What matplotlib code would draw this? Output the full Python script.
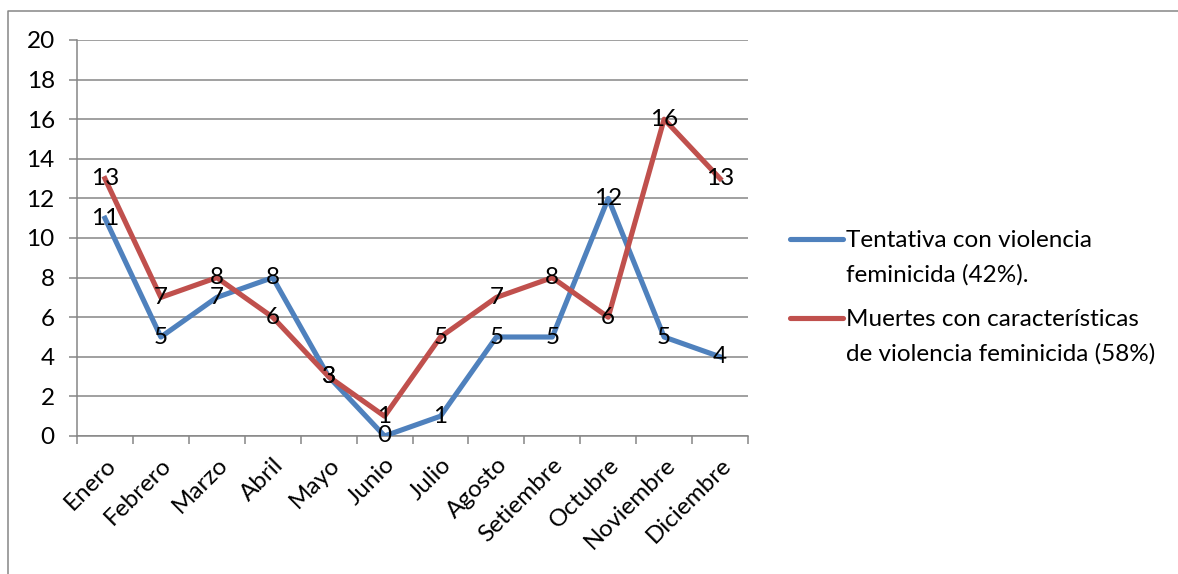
import matplotlib
matplotlib.use("Agg")
import matplotlib.pyplot as plt
from matplotlib.lines import Line2D

meses = ["Enero", "Febrero", "Marzo", "Abril", "Mayo", "Junio", "Julio",
         "Agosto", "Setiembre", "Octubre", "Noviembre", "Diciembre"]
tentativa = [11, 5, 7, 8, 3, 0, 1, 5, 5, 12, 5, 4]
muertes = [13, 7, 8, 6, 3, 1, 5, 7, 8, 6, 16, 13]
etiquetas = ["Tentativa con violencia\nfeminicida (42%).",
             "Muertes con características\nde violencia feminicida (58%)"]

azul = "#4F81BD"
rojo = "#C0504D"
gris = "#868686"

plt.rcParams["font.family"] = ["Lato", "DejaVu Sans"]
fs = 17.5

W, H = 1178, 574
fig = plt.figure(figsize=(W / 100, H / 100), dpi=100)
ax = fig.add_axes([77 / W, 1 - 436 / H, (748 - 77) / W, (436 - 40) / H])

x = list(range(len(meses)))
ax.plot(x, tentativa, color=azul, lw=3.7, solid_joinstyle="round", zorder=3)
ax.plot(x, muertes, color=rojo, lw=3.7, solid_joinstyle="round", zorder=3)

for serie in (tentativa, muertes):
    for i, v in enumerate(serie):
        ax.text(i, v, str(v), ha="center", va="center", fontsize=fs, zorder=4)

ax.set_xlim(-0.5, len(meses) - 0.5)
ax.set_ylim(0, 20)
ax.set_yticks(range(0, 21, 2))
ax.yaxis.grid(True, color=gris, lw=1.1)
ax.set_axisbelow(True)

ax.set_xticks(x)
ax.set_xticklabels(meses, rotation=45, ha="right", rotation_mode="anchor", fontsize=fs)
ax.set_xticks([i - 0.5 for i in range(len(meses) + 1)], minor=True)
ax.tick_params(axis="x", which="major", length=0, pad=13)
ax.tick_params(axis="x", which="minor", length=6, color=gris, width=1.1)
ax.tick_params(axis="y", length=6, color=gris, width=1.1, labelsize=fs, pad=10)

for s in ("top", "right"):
    ax.spines[s].set_visible(False)
for s in ("left", "bottom"):
    ax.spines[s].set_color(gris)
    ax.spines[s].set_linewidth(1.1)

# leyenda a mano
for k, (lab, col) in enumerate(zip(etiquetas, (azul, rojo))):
    y0 = 1 - (239 + k * 79) / H
    fig.add_artist(Line2D([790 / W, 843 / W], [y0, y0], color=col, lw=3.7,
                          solid_capstyle="round", transform=fig.transFigure))
    fig.text(846 / W, y0 + 9 / H, lab, ha="left", va="top", fontsize=fs,
             linespacing=1.75)

# borde del gráfico
fig.add_artist(Line2D([8 / W, 8 / W, 1.0], [0, 1 - 11 / H, 1 - 11 / H],
                      color=gris, lw=1.1, transform=fig.transFigure))

fig.savefig("out.png", dpi=100)
